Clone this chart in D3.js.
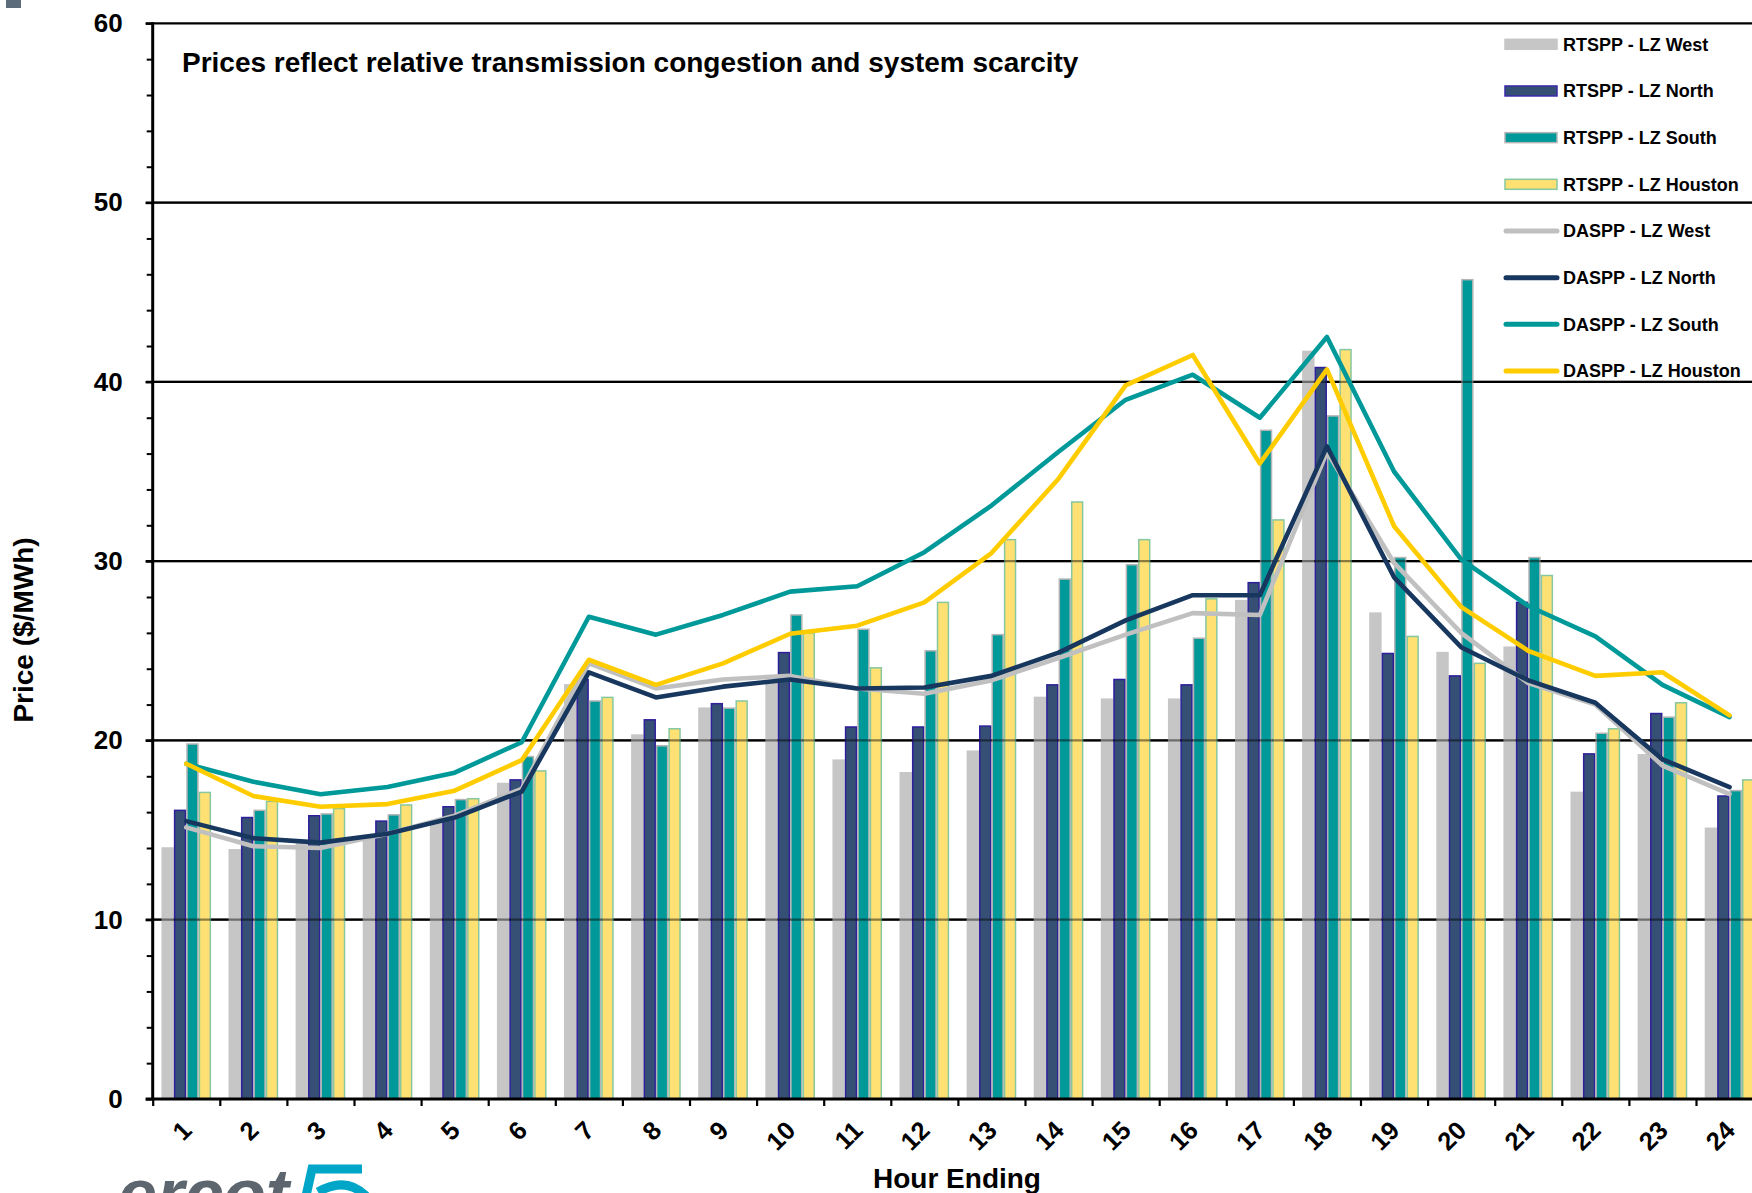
<!DOCTYPE html>
<html>
<head>
<meta charset="utf-8">
<script src="https://cdn.jsdelivr.net/npm/d3@7"></script>
<style>
  body { margin: 0; background: #fff; }
  svg { display: block; font-family: "Liberation Sans", Arial, sans-serif; font-weight: bold; }
</style>
</head>
<body>
<div id="chart"></div>
<script>
// hour ending categories
var hours = ["1","2","3","4","5","6","7","8","9","10","11","12","13","14","15","16","17","18","19","20","21","22","23","24"];

// real time settlement point prices (bars)
var rtWest    = [14.0, 13.9, 14.3, 14.5, 15.4, 17.6, 23.1, 20.3, 21.8, 23.3, 18.9, 18.2, 19.4, 22.4, 22.3, 22.3, 27.8, 41.7, 27.1, 24.9, 25.2, 17.1, 19.2, 15.1];
var rtNorth   = [16.1, 15.7, 15.8, 15.5, 16.3, 17.8, 23.4, 21.15, 22.05, 24.9, 20.75, 20.75, 20.8, 23.1, 23.4, 23.1, 28.8, 40.8, 24.85, 23.6, 27.7, 19.25, 21.5, 16.9];
var rtSouth   = [19.8, 16.1, 15.9, 15.85, 16.7, 19.1, 22.2, 19.7, 21.8, 27.0, 26.2, 25.0, 25.9, 29.0, 29.8, 25.7, 37.3, 38.1, 30.2, 45.7, 30.2, 20.4, 21.3, 17.2];
var rtHouston = [17.1, 16.6, 16.2, 16.4, 16.75, 18.3, 22.4, 20.65, 22.2, 26.0, 24.05, 27.7, 31.2, 33.3, 31.2, 27.9, 32.3, 41.8, 25.8, 24.3, 29.2, 20.65, 22.1, 17.8];

// day ahead settlement point prices (lines)
var daWest    = [15.15, 14.1, 14.0, 14.8, 15.8, 17.3, 24.3, 22.9, 23.4, 23.6, 22.9, 22.6, 23.35, 24.6, 25.9, 27.1, 27.0, 36.1, 29.9, 26.0, 23.2, 22.0, 18.6, 17.0];
var daNorth   = [15.5, 14.55, 14.3, 14.8, 15.7, 17.15, 23.8, 22.4, 23.0, 23.4, 22.9, 22.95, 23.6, 24.9, 26.7, 28.1, 28.1, 36.4, 29.1, 25.2, 23.35, 22.1, 18.95, 17.4];
var daSouth   = [18.7, 17.7, 17.0, 17.4, 18.2, 19.9, 26.9, 25.9, 27.0, 28.3, 28.6, 30.5, 33.1, 36.1, 39.0, 40.4, 38.0, 42.5, 35.0, 30.1, 27.5, 25.8, 23.1, 21.3];
var daHouston = [18.7, 16.9, 16.3, 16.45, 17.2, 18.9, 24.5, 23.1, 24.3, 25.95, 26.4, 27.7, 30.45, 34.6, 39.8, 41.5, 35.45, 40.7, 31.95, 27.45, 25.0, 23.6, 23.8, 21.4];

var yTicks = [0, 10, 20, 30, 40, 50, 60];
var yMinorTicks = [2, 4, 6, 8, 12, 14, 16, 18, 22, 24, 26, 28, 32, 34, 36, 38, 42, 44, 46, 48, 52, 54, 56, 58];

var barSeries = [
    {name: "RTSPP - LZ West",    values: rtWest,    fill: "#c6c6c6", stroke: "#c6c6c6"},
    {name: "RTSPP - LZ North",   values: rtNorth,   fill: "#364f74", stroke: "#2e1f9a"},
    {name: "RTSPP - LZ South",   values: rtSouth,   fill: "#009999", stroke: "#b4b4b4"},
    {name: "RTSPP - LZ Houston", values: rtHouston, fill: "#ffe173", stroke: "#86c7a0"}
];
var lineSeries = [
    {name: "DASPP - LZ West",    values: daWest,    color: "#c0c0c0"},
    {name: "DASPP - LZ North",   values: daNorth,   color: "#17375e"},
    {name: "DASPP - LZ South",   values: daSouth,   color: "#009999"},
    {name: "DASPP - LZ Houston", values: daHouston, color: "#ffcc00"}
];

var svgWidth = 1752;
var svgHeight = 1193;
var chartMargin = {top: 23.3, left: 152.7};
var bandW = 67.1;
var chartWidth = bandW * hours.length;   // runs a little past the right edge, like the original
var chartHeight = 1099 - chartMargin.top;

var svg = d3.select("#chart")
    .append("svg")
    .attr("width", svgWidth)
    .attr("height", svgHeight);

svg.append("rect").attr("width", svgWidth).attr("height", svgHeight).attr("fill", "#fff");

var chartGroup = svg.append("g")
    .attr("transform", `translate(${chartMargin.left}, ${chartMargin.top})`);

var x = d3.scaleBand().domain(hours).range([0, chartWidth]).padding(0);
var xSub = d3.scaleBand()
    .domain(barSeries.map(d => d.name))
    .range([bandW * 0.13, bandW * 0.87])
    .padding(0);
var y = d3.scaleLinear().domain([0, 60]).range([chartHeight, 0]);

// gridlines under bars
chartGroup.append("g")
    .selectAll("line")
    .data(yTicks.filter(d => d > 0))
    .enter()
    .append("line")
    .attr("x1", -7)
    .attr("x2", chartWidth)
    .attr("y1", d => y(d))
    .attr("y2", d => y(d))
    .attr("stroke", "#000")
    .attr("stroke-width", 2.2);

// bars
barSeries.forEach(function(s) {
    chartGroup.append("g")
        .selectAll("rect")
        .data(s.values)
        .enter()
        .append("rect")
        .attr("x", (d, i) => x(hours[i]) + xSub(s.name) + 0.75)
        .attr("width", xSub.bandwidth() - 1.5)
        .attr("y", d => y(d))
        .attr("height", d => chartHeight - y(d))
        .attr("fill", s.fill)
        .attr("stroke", s.stroke)
        .attr("stroke-width", 1.5);
});

// gridlines show through the bars a bit
chartGroup.append("g")
    .selectAll("line")
    .data(yTicks.filter(d => d > 0 && d < 60))
    .enter()
    .append("line")
    .attr("x1", 0)
    .attr("x2", chartWidth)
    .attr("y1", d => y(d))
    .attr("y2", d => y(d))
    .attr("stroke", "#000")
    .attr("stroke-opacity", 0.45)
    .attr("stroke-width", 2.2);

// day ahead lines
var lineGen = d3.line()
    .x((d, i) => x(hours[i]) + bandW / 2)
    .y(d => y(d));

lineSeries.forEach(function(s) {
    chartGroup.append("path")
        .datum(s.values)
        .attr("d", lineGen)
        .attr("fill", "none")
        .attr("stroke", s.color)
        .attr("stroke-width", 4.6)
        .attr("stroke-linejoin", "round")
        .attr("stroke-linecap", "round");
});

// y axis
var leftAxis = d3.axisLeft(y).tickValues(yTicks).tickSize(7).tickPadding(23);
var yAxis = chartGroup.append("g").call(leftAxis);
yAxis.select(".domain").remove();
yAxis.selectAll("line").attr("stroke", "#000").attr("stroke-width", 2.2);
yAxis.selectAll("text")
    .attr("font-size", 26)
    .attr("font-weight", "bold")
    .attr("font-family", "'Liberation Sans', Arial, sans-serif")
    .attr("fill", "#000");

var minorAxis = chartGroup.append("g")
    .call(d3.axisLeft(y).tickValues(yMinorTicks).tickSize(6).tickFormat(""));
minorAxis.select(".domain").remove();
minorAxis.selectAll("line").attr("stroke", "#000").attr("stroke-width", 2);

chartGroup.append("line")
    .attr("x1", 0).attr("x2", 0)
    .attr("y1", -1).attr("y2", chartHeight + 1)
    .attr("stroke", "#000")
    .attr("stroke-width", 3);

// x axis: boundary ticks + labels at band centres
var xb = d3.scaleLinear().domain([0, hours.length]).range([0, chartWidth]);
var tickAxis = chartGroup.append("g")
    .attr("transform", `translate(0, ${chartHeight})`)
    .call(d3.axisBottom(xb).tickValues(d3.range(0, hours.length + 1)).tickSize(7).tickFormat(""));
tickAxis.select(".domain").remove();
tickAxis.selectAll("line").attr("stroke", "#000").attr("stroke-width", 2.2);

chartGroup.append("line")
    .attr("x1", -7).attr("x2", chartWidth)
    .attr("y1", chartHeight).attr("y2", chartHeight)
    .attr("stroke", "#000")
    .attr("stroke-width", 3);

chartGroup.append("g")
    .selectAll("text")
    .data(hours)
    .enter()
    .append("text")
    .attr("transform", d => `translate(${x(d) + bandW / 2 + 7}, ${chartHeight + 33}) rotate(-45)`)
    .attr("text-anchor", "end")
    .attr("font-size", 25.5)
    .attr("fill", "#000")
    .text(d => d);

// axis titles
svg.append("text")
    .attr("x", 957)
    .attr("y", 1188)
    .attr("text-anchor", "middle")
    .attr("font-size", 28)
    .text("Hour Ending");

svg.append("text")
    .attr("transform", "translate(33, 630) rotate(-90)")
    .attr("text-anchor", "middle")
    .attr("font-size", 28)
    .text("Price ($/MWh)");

// chart note
svg.append("text")
    .attr("x", 182)
    .attr("y", 72)
    .attr("font-size", 28)
    .text("Prices reflect relative transmission congestion and system scarcity");

// legend
var legendRowY = d3.scaleLinear().domain([0, 7]).range([44.3, 371]);
var legend = svg.append("g");

barSeries.forEach(function(s, i) {
    legend.append("rect")
        .attr("x", 1505)
        .attr("y", legendRowY(i) - 5)
        .attr("width", 52)
        .attr("height", 10)
        .attr("fill", s.fill)
        .attr("stroke", i == 1 ? "#3a2aa8" : s.stroke)
        .attr("stroke-width", 1.5);
    legend.append("text")
        .attr("x", 1563)
        .attr("y", legendRowY(i))
        .attr("dy", "0.36em")
        .attr("font-size", 18)
        .text(s.name);
});

lineSeries.forEach(function(s, i) {
    var ry = legendRowY(i + 4);
    legend.append("line")
        .attr("x1", 1506).attr("x2", 1557)
        .attr("y1", ry).attr("y2", ry)
        .attr("stroke", s.color)
        .attr("stroke-width", 5)
        .attr("stroke-linecap", "round");
    legend.append("text")
        .attr("x", 1563)
        .attr("y", ry)
        .attr("dy", "0.36em")
        .attr("font-size", 18)
        .text(s.name);
});

// bits of the slide around the chart
svg.append("rect")
    .attr("x", 6).attr("y", 0)
    .attr("width", 15).attr("height", 8)
    .attr("fill", "#5d6c7b");

svg.append("text")
    .attr("x", 118)
    .attr("y", 1218)
    .attr("font-size", 70)
    .attr("font-style", "italic")
    .attr("fill", "#5d666f")
    .text("ercot");

svg.append("path")
    .attr("d", "M306,1196 L312,1169 L362,1169 M318,1192 Q346,1176 366,1196")
    .attr("fill", "none")
    .attr("stroke", "#00a6c8")
    .attr("stroke-width", 9);
</script>
</body>
</html>
